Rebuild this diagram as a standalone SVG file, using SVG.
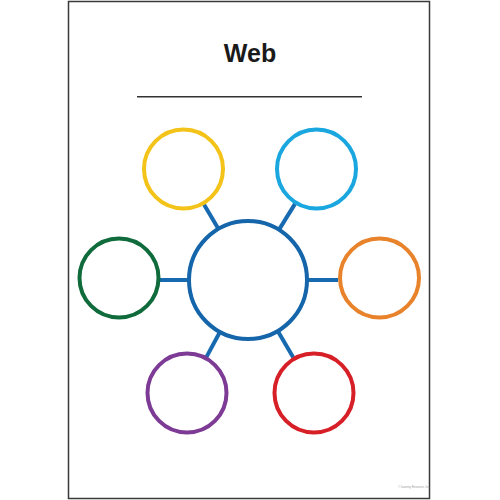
<svg xmlns="http://www.w3.org/2000/svg" width="500" height="500" viewBox="0 0 500 500">
<style>
.node{fill:#fff;stroke-width:4}
.conn line{stroke:#1769b0;stroke-width:4}
</style>
<rect x="0" y="0" width="500" height="500" fill="#fff"/>
<rect x="68.5" y="1.5" width="361" height="497" fill="#fff" stroke="#3a3a3a" stroke-width="1.5"/>
<text x="250" y="62" text-anchor="middle" font-family="'Liberation Sans', Arial, sans-serif" font-weight="bold" font-size="25" fill="#1a1a1a">Web</text>
<line x1="137" y1="96.7" x2="362" y2="96.7" stroke="#333" stroke-width="1.6"/>
<g id="connectors" class="conn">
<line x1="204" y1="204.4" x2="217.9" y2="228.1"/>
<line x1="295" y1="203.9" x2="279.5" y2="228.9"/>
<line x1="160" y1="280" x2="188" y2="280"/>
<line x1="308" y1="280" x2="338" y2="280"/>
<line x1="219.5" y1="332.8" x2="206.5" y2="356.9"/>
<line x1="278.2" y1="331.8" x2="293.3" y2="357.6"/>
</g>
<g id="center"><circle class="node" cx="248" cy="280" r="59" stroke="#1565ab"/></g>
<g id="yellow"><circle class="node" cx="183.5" cy="169" r="39.5" stroke="#f3c31a"/></g>
<g id="lightblue"><circle class="node" cx="316.5" cy="169" r="39.5" stroke="#1aa6de"/></g>
<g id="green"><circle class="node" cx="119" cy="278" r="39.5" stroke="#0f6b3b"/></g>
<g id="orange"><circle class="node" cx="379.5" cy="278" r="39.5" stroke="#e8832b"/></g>
<g id="purple"><circle class="node" cx="187" cy="393" r="39.5" stroke="#7d3b95"/></g>
<g id="red"><circle class="node" cx="314" cy="393" r="39.5" stroke="#d71f27"/></g>
<text x="414" y="488" text-anchor="middle" font-family="'Liberation Sans', Arial, sans-serif" font-size="2.6" fill="#999">© Learning Resources, Inc.</text>
</svg>
